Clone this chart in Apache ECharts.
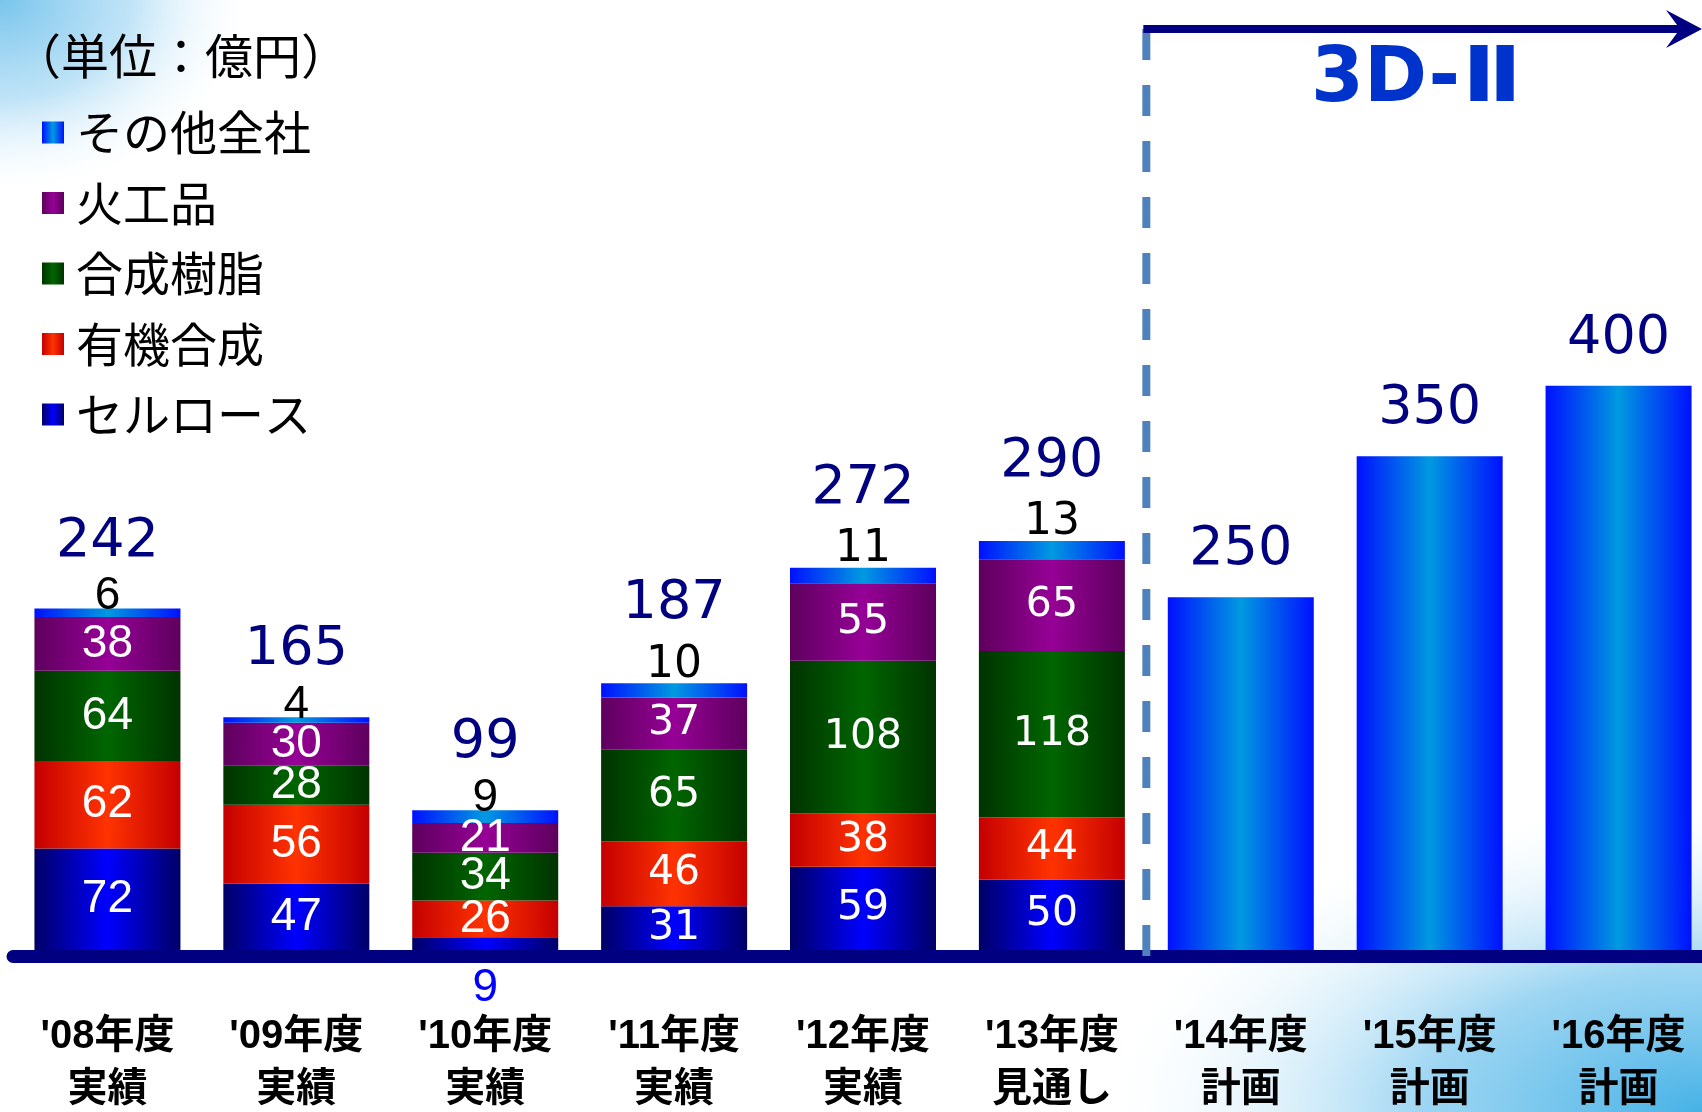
<!DOCTYPE html>
<html><head><meta charset="utf-8">
<script src="https://cdn.jsdelivr.net/npm/echarts@6/dist/echarts.min.js"></script>
<style>html,body{margin:0;padding:0;background:#fff;overflow:hidden;width:1702px;height:1112px}#c{width:1713px;height:1112px}</style>
</head><body><div id="c"></div>
<script>
const categories = ["'08年度\n実績", "'09年度\n実績", "'10年度\n実績", "'11年度\n実績", "'12年度\n実績", "'13年度\n見通し", "'14年度\n計画", "'15年度\n計画", "'16年度\n計画"];
const cellulose  = [72, 47, 9, 31, 59, 50, null, null, null];
const organic    = [62, 56, 26, 46, 38, 44, null, null, null];
const resin      = [64, 28, 34, 65, 108, 118, null, null, null];
const explosives = [38, 30, 21, 37, 55, 65, null, null, null];
const others     = [6, 4, 9, 10, 11, 13, null, null, null];
const plan       = [null, null, null, null, null, null, 250, 350, 400];
const totals     = [242, 165, 99, 187, 272, 290, 250, 350, 400];
const legendNames = ['その他全社', '火工品', '合成樹脂', '有機合成', 'セルロース'];

const chart = echarts.init(document.getElementById('c'), null, {renderer: 'canvas'});
const G = echarts.graphic;
const grad = (edge, mid) => new G.LinearGradient(0, 0, 1, 0, [
  {offset: 0, color: edge}, {offset: 0.5, color: mid}, {offset: 1, color: edge}]);

const NAVY = '#000080';
const segRich = {
  a: {fontFamily: 'Liberation Sans', fontSize: 46, color: '#fff'},
  b: {fontFamily: 'DejaVu Sans', fontSize: 41, color: '#fff'},
  under: {fontFamily: 'Liberation Sans', fontSize: 46, color: '#0000ff'}
};
const segLabel = {show: true, position: 'inside', rich: segRich,
  formatter: p => `{${p.dataIndex < 3 ? 'a' : 'b'}|${p.value}}`};

const toData = arr => arr.map(v => v == null ? '-' : v);
const cellData = cellulose.map(v => v == null ? '-' : (v < 15 ? {value: v, label: {position: 'bottom', distance: 15, formatter: `{under|${v}}`}} : v));

const barW = 146;
const mk = (name, data, edge, mid, label) => ({
  name, type: 'bar', stack: 'a', barWidth: barW, data,
  itemStyle: {color: grad(edge, mid)}, label
});

const option = {
  animation: false,
  backgroundColor: '#fff',
  title: {text: '（単位：億円）', left: 13, top: 32, padding: 0,
    textStyle: {fontFamily: 'Noto Sans CJK JP', fontSize: 48, fontWeight: 'normal', color: '#000', lineHeight: 48}},
  legend: {orient: 'vertical', left: 42, top: 109, padding: 0, itemWidth: 22, itemHeight: 22, itemGap: 23.5,
    icon: 'rect', data: legendNames, selectedMode: false,
    textStyle: {fontFamily: 'Noto Sans CJK JP', fontSize: 47, lineHeight: 47, color: '#000', padding: [0, 0, 0, 7]}},
  grid: {left: 13, right: 0, top: 385.7, height: 570.9, outerBoundsMode: 'none', containLabel: false},
  xAxis: {type: 'category', data: categories,
    axisLine: {onZero: false, lineStyle: {color: NAVY, width: 13}}, axisTick: {show: false},
    axisLabel: {fontFamily: "'Liberation Sans','Noto Sans CJK JP'", fontSize: 40, fontWeight: 'bold', color: '#000', lineHeight: 53, margin: 54, interval: 0}},
  yAxis: {type: 'value', min: -4.68, max: 400, show: false},
  series: [
    mk('セルロース', cellData, '#000066', '#0000ff', segLabel),
    mk('有機合成', toData(organic), '#c40000', '#ff3300', segLabel),
    mk('合成樹脂', toData(resin), '#003300', '#006600', segLabel),
    mk('火工品', toData(explosives), '#5e005e', '#960096', segLabel),
    mk('その他全社', toData(others), '#0010ff', '#009ae0', {show: true, position: 'top', distance: -13,
      formatter: p => `{t|${totals[p.dataIndex]}}\n{${p.dataIndex < 3 ? 'oa' : 'ob'}|${p.value}}`,
      rich: {
        t: {fontFamily: 'DejaVu Sans', fontSize: 54, color: NAVY, lineHeight: 60},
        oa: {fontFamily: 'Liberation Sans', fontSize: 46, color: '#000', lineHeight: 50},
        ob: {fontFamily: 'DejaVu Sans', fontSize: 44, color: '#000', lineHeight: 62}
      }}),
    mk('計画', toData(plan), '#0010ff', '#009ae0', {show: true, position: 'top', distance: 17,
      formatter: p => `{t|${totals[p.dataIndex]}}`,
      rich: {t: {fontFamily: 'DejaVu Sans', fontSize: 54, color: NAVY, lineHeight: 60}}})
  ]
};
chart.setOption(option);

// annotations placed from the axis' own scale
const p5 = chart.convertToPixel({xAxisIndex: 0}, 5);
const p6 = chart.convertToPixel({xAxisIndex: 0}, 6);
const xb = (p5 + p6) / 2;
const W = 1702, H = 1112;
chart.setOption({
  graphic: [
    {type: 'rect', z: -100, silent: true, shape: {x: -1000, y: -1000, width: 2000, height: 2000},
      x: W, y: H, scaleX: 0.62, scaleY: 0.32,
      style: {fill: new G.RadialGradient(0.5, 0.5, 0.5, [
        {offset: 0, color: 'rgba(70,178,230,1)'}, {offset: 0.45, color: 'rgba(140,206,240,0.85)'},
        {offset: 1, color: 'rgba(255,255,255,0)'}])}},
    {type: 'rect', z: -100, silent: true, shape: {x: -1000, y: -1000, width: 2000, height: 2000},
      x: 0, y: 0, scaleX: 0.26, scaleY: 0.2,
      style: {fill: new G.RadialGradient(0.5, 0.5, 0.5, [
        {offset: 0, color: 'rgba(120,196,236,1)'}, {offset: 0.5, color: 'rgba(170,218,244,0.75)'},
        {offset: 1, color: 'rgba(255,255,255,0)'}])}},
    {type: 'line', z: 50, silent: true, shape: {x1: xb, y1: 29, x2: xb, y2: 957},
      style: {stroke: '#4f81bd', lineWidth: 8, lineDash: [31, 25]}},
    {type: 'line', z: 51, silent: true, shape: {x1: xb - 3, y1: 29, x2: W - 20, y2: 29},
      style: {stroke: NAVY, lineWidth: 8}},
    {type: 'polygon', z: 51, silent: true, shape: {points: [[W, 29], [W - 36, 10], [W - 22, 29], [W - 36, 48]]},
      style: {fill: NAVY}},
    {type: 'text', z: 51, silent: true, x: 1311, y: 81,
      style: {text: '3D-', font: "bold 76px 'DejaVu Sans'", fill: '#0033cc', textAlign: 'left', textVerticalAlign: 'middle'}},
    {type: 'text', z: 51, silent: true, x: 1462, y: 81, scaleX: 1.2,
      style: {text: 'Ⅱ', font: "bold 76px 'DejaVu Sans'", fill: '#0033cc', textAlign: 'left', textVerticalAlign: 'middle'}}
  ]
});
</script></body></html>
